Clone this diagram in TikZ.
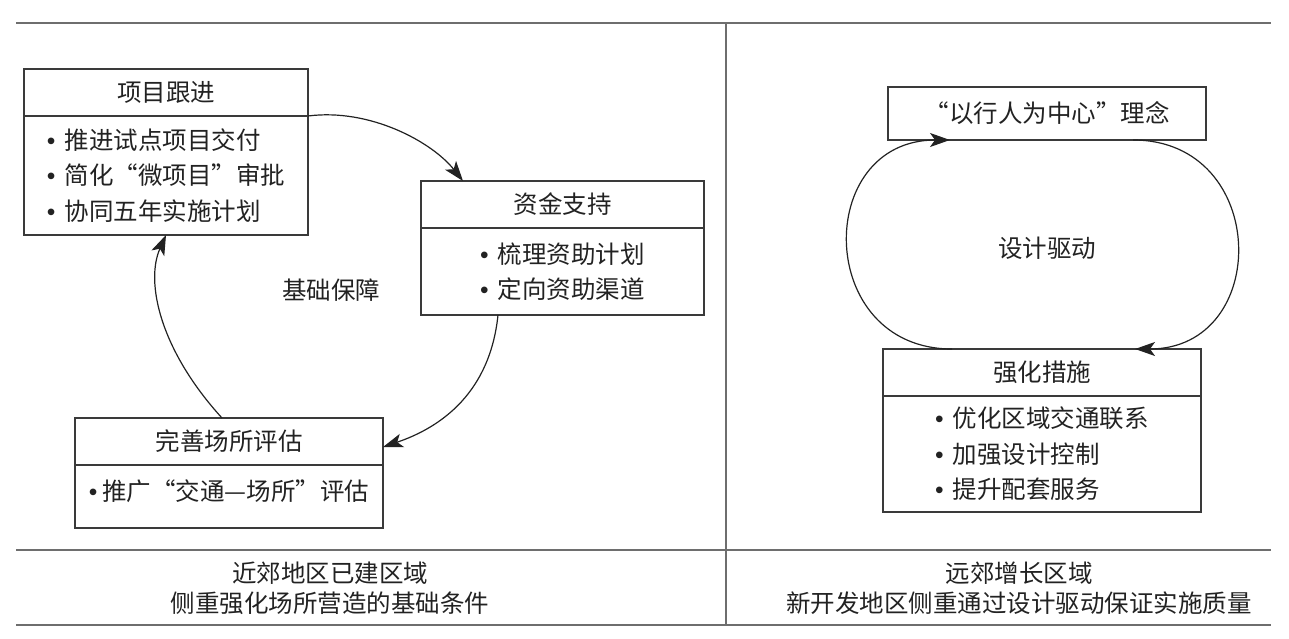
\documentclass[tikz,border=0pt]{standalone}
\usepackage{fontspec}
\setmainfont{Noto Sans CJK SC}
\newfontfamily\bulletfont{Liberation Sans}
\newcommand{\blt}{{\bulletfont •}\hspace{9pt}}
\usetikzlibrary{arrows.meta}
\definecolor{rulegray}{HTML}{6E6E6E}
\definecolor{boxgray}{HTML}{3A3A3A}
\definecolor{inkc}{HTML}{222222}
\begin{document}
\begin{tikzpicture}[x=1pt,y=-1pt,
  every node/.style={font=\fontsize{24.5}{35.5}\selectfont, text=inkc},
  rule/.style={draw=rulegray, line width=2pt},
  part/.style={draw=boxgray, line width=1.4pt, inner sep=0pt, outer sep=0pt, anchor=north west, align=left},
  conn/.style={draw=inkc, line width=1.2pt, -{Stealth[length=20pt,width=14pt,inset=5pt]}},
  plain/.style={inner sep=0pt},
  caption/.style={font=\fontsize{24.5}{30}\selectfont, align=center, inner sep=0pt}]
\useasboundingbox (0,0) rectangle (1289,639);
% rules
\draw[rule] (16,23) -- (1271,23);
\draw[rule] (16,550) -- (1271,550);
\draw[rule] (16,625) -- (1271,625);
\draw[rule] (726,23) -- (726,625);
% left boxes
\node[part, minimum width=284, minimum height=47] (t1) at (24,69) {项目跟进};
\node[part, minimum width=284, minimum height=119] (b1) at (24,116) {\blt 推进试点项目交付\\\blt 简化“微项目”审批\\\blt 协同五年实施计划};
\node[part, minimum width=283, minimum height=47] (t2) at (421,181) {资金支持};
\node[part, minimum width=283, minimum height=87] (b2) at (421,228) {\blt 梳理资助计划\\\blt 定向资助渠道};
\node[part, minimum width=308, minimum height=47] (t3) at (75,418) {完善场所评估};
\node[part, minimum width=308, minimum height=63] (b3) at (75,465) {};
\node[plain] (l3) at (229,491) {{\bulletfont •}\hspace{5pt}推广“交通—场所”评估};
\node[plain] (k1) at (331,290) {基础保障};
% left connectors
\draw[conn] (b1.north east) .. controls (370,108) and (432,142) .. ([xshift=42pt]t2.north west);
\draw[conn] ([xshift=77pt]b2.south west) .. controls (490,392) and (442,427) .. ([yshift=-5.5pt]t3.east);
\draw[conn] ([xshift=147pt]t3.north west) .. controls (160,350) and (145,282) .. ([xshift=142pt]b1.south west);
% right boxes
\node[part, minimum width=318, minimum height=53] (t4) at (888,87) {“以行人为中心”理念};
\node[part, minimum width=318, minimum height=47] (t5) at (883,349) {强化措施};
\node[part, minimum width=318, minimum height=116] (b5) at (883,396) {\blt 优化区域交通联系\\\blt 加强设计控制\\\blt 提升配套服务};
\node[plain] (k2) at (1047,248) {设计驱动};
% right connectors
\draw[conn] ([xshift=69pt]t5.north west) .. controls (815,349) and (813,140) .. ([xshift=62pt]t4.south west);
\draw[conn] ([xshift=245pt]t4.south west) .. controls (1270,140) and (1272,349) .. ([xshift=252pt]t5.north west);
% captions
\node[caption] (c1) at (330,588) {近郊地区已建区域\\侧重强化场所营造的基础条件};
\node[caption] (c2) at (1019,588) {远郊增长区域\\新开发地区侧重通过设计驱动保证实施质量};
\end{tikzpicture}
\end{document}
